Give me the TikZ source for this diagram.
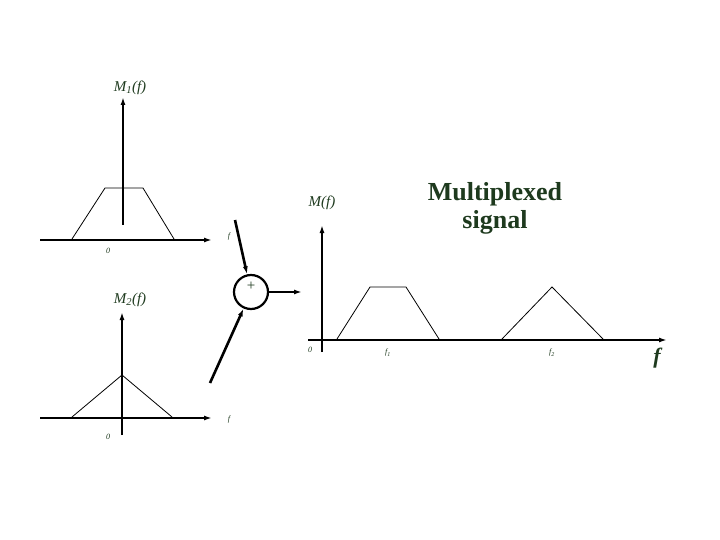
\documentclass[tikz,border=0pt]{standalone}
\usepackage{fontspec}
\setmainfont{Liberation Serif}
\usetikzlibrary{arrows.meta}
\definecolor{tg}{HTML}{1E3A1E}
\begin{document}
\begin{tikzpicture}[x=1pt,y=-1pt,
  ax/.style={line width=2.6pt,-{Latex[length=8pt,width=5pt]}},
  thin/.style={line width=0.8pt},
  lab/.style={text=tg,font=\itshape\fontsize{15}{15}\selectfont,inner sep=0},
  sm/.style={text=tg,font=\itshape\fontsize{8}{8}\selectfont,inner sep=0}]
\useasboundingbox (0,0) rectangle (720,540);
% M1
\coordinate (a1s) at (40,240); \coordinate (a1e) at (212,240);
\coordinate (v1s) at (123,225); \coordinate (v1e) at (123,97);
\draw[ax] (a1s) -- (a1e); \draw[ax] (v1s) -- (v1e);
\draw[thin] (72,239) -- (105,188) -- (143,188) -- (174,239);
\node[lab] (m1) at (130,88) {M\textsubscript{1}(f)};
\node[sm] (z1) at (108,251) {0};
\node[sm] (f1a) at (229,237) {f};
% M2
\coordinate (a2s) at (40,418); \coordinate (a2e) at (212,418);
\coordinate (v2s) at (122,435); \coordinate (v2e) at (122,312);
\draw[ax] (a2s) -- (a2e); \draw[ax] (v2s) -- (v2e);
\draw[thin] (72,417) -- (122,375) -- (172,417);
\node[lab] (m2) at (130,300) {M\textsubscript{2}(f)};
\node[sm] (z2) at (108,437) {0};
\node[sm] (f2a) at (229,420) {f};
% adder
\node[circle,draw,line width=2.2pt,minimum size=34pt,inner sep=0] (sum) at (251,292) {};
\node[text=tg,font=\fontsize{15}{15}\selectfont] (plus) at (251,286) {+};
\coordinate (in1) at (235,220); \coordinate (in2) at (210,383); \coordinate (out) at (302,292);
\draw[ax] (in1) -- (sum); \draw[ax] (in2) -- (sum); \draw[ax] (sum) -- (out);
% M
\coordinate (as) at (308,340); \coordinate (ae) at (667,340);
\coordinate (vs) at (322,352); \coordinate (ve) at (322,225);
\draw[ax] (as) -- (ae); \draw[ax] (vs) -- (ve);
\draw[thin] (337,339) -- (370,287) -- (406,287) -- (439,339);
\draw[thin] (502,339) -- (552,287) -- (603,339);
\node[lab] (m) at (322,203) {M(f)};
\node[sm] (z) at (310,350) {0};
\node[sm] (fa) at (388,353) {f\textsubscript{1}};
\node[sm] (fb) at (552,353) {f\textsubscript{2}};
\node[text=tg,font=\itshape\bfseries\fontsize{22}{22}\selectfont] (f) at (657,358) {f};
\node[text=tg,font=\bfseries\fontsize{26}{28}\selectfont,align=center] (title) at (495,208) {Multiplexed\\signal};
\end{tikzpicture}
\end{document}
